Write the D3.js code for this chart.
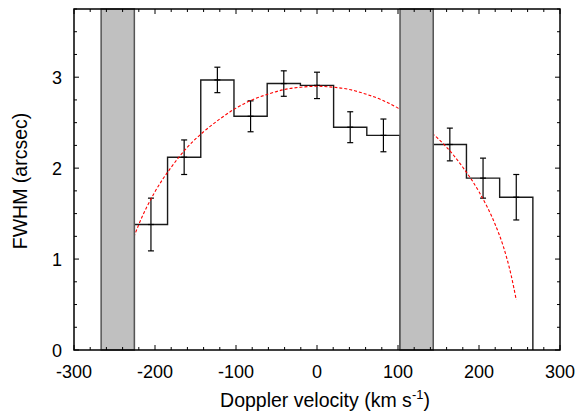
<!DOCTYPE html>
<html><head><meta charset="utf-8">
<script src="https://cdn.jsdelivr.net/npm/d3@7"></script>
<style>body{margin:0;background:#fff}svg text{font-family:"Liberation Sans",Arial,Helvetica,sans-serif;fill:#000}</style>
</head><body><svg id="c" width="582" height="412"></svg>
<script>
// Data
const binCenters = [-205, -164, -123, -82, -41, 0, 41, 82, 164, 205, 246];
const fwhm       = [1.38, 2.12, 2.97, 2.57, 2.93, 2.91, 2.45, 2.36, 2.26, 1.89, 1.68];
const fwhmErr    = [0.29, 0.19, 0.14, 0.17, 0.14, 0.145, 0.17, 0.18, 0.18, 0.22, 0.25];
const binWidth = 41;
const maskedBands = [[-266.5, -225.5], [102.5, 143.5]];
const fitV = [-246, -240, -230, -220, -200, -180, -160, -140, -120, -100, -80, -60, -40, -20, 0, 20, 40, 60, 80, 100, 120, 140, 160, 180, 200, 220, 230, 240, 246];
const fitY = [0.55, 0.81, 1.14, 1.38, 1.74, 2.01, 2.23, 2.40, 2.54, 2.66, 2.75, 2.815, 2.865, 2.89, 2.9, 2.89, 2.865, 2.815, 2.75, 2.66, 2.54, 2.40, 2.23, 2.01, 1.74, 1.38, 1.14, 0.81, 0.55];
const xTicks = [-300, -200, -100, 0, 100, 200, 300];
const yTicks = [0, 1, 2, 3];

const svg = d3.select("#c");
const L = 74, R = 560, T = 9, B = 350;
const x = d3.scaleLinear().domain([-300, 300]).range([L, R]);
const y = d3.scaleLinear().domain([0, 3.75]).range([B, T]);

// Step histogram
const segs = [[0, 7], [8, 10]];
const stepG = svg.append("g");
segs.forEach(([a, b]) => {
  const pts = [];
  pts.push([binCenters[a] - binWidth/2, 0]);
  for (let i = a; i <= b; i++) {
    pts.push([binCenters[i] - binWidth/2, fwhm[i]]);
    pts.push([binCenters[i] + binWidth/2, fwhm[i]]);
  }
  pts.push([binCenters[b] + binWidth/2, 0]);
  stepG.append("path")
    .attr("d", d3.line().x(d => x(d[0])).y(d => y(d[1]))(pts))
    .attr("fill", "none").attr("stroke", "#1a1a1a").attr("stroke-width", 1.4);
});

// Error bars
const eg = svg.append("g").attr("stroke", "#000").attr("stroke-width", 1.2);
binCenters.forEach((v, i) => {
  const cx = x(v), y1 = y(fwhm[i] + fwhmErr[i]), y2 = y(fwhm[i] - fwhmErr[i]);
  eg.append("line").attr("x1", cx).attr("x2", cx).attr("y1", y1).attr("y2", y2);
  eg.append("line").attr("x1", cx - 3).attr("x2", cx + 3).attr("y1", y1).attr("y2", y1);
  eg.append("line").attr("x1", cx - 3).attr("x2", cx + 3).attr("y1", y2).attr("y2", y2);
  eg.append("line").attr("x1", cx - 3).attr("x2", cx + 3).attr("y1", y(fwhm[i])).attr("y2", y(fwhm[i]));
});

// Fit curve
svg.append("path")
  .attr("d", d3.line().x((d, i) => x(fitV[i])).y((d, i) => y(fitY[i])).curve(d3.curveMonotoneX)(fitV))
  .attr("fill", "none").attr("stroke", "#ff0000").attr("stroke-width", 1.1)
  .attr("stroke-dasharray", "3,2");

// Masked bands
maskedBands.forEach(([a, b]) => {
  svg.append("rect").attr("x", x(a)).attr("y", T).attr("width", x(b) - x(a)).attr("height", B - T)
    .attr("fill", "#c0c0c0").attr("stroke", "#555").attr("stroke-width", 1.5);
});

// Ticks (inward, all sides)
const tg = svg.append("g").attr("stroke", "#000").attr("stroke-width", 1);
d3.range(-300, 301, 20).forEach(v => {
  const major = v % 100 === 0, len = major ? 5 : 3, px = x(v);
  tg.append("line").attr("x1", px).attr("x2", px).attr("y1", B).attr("y2", B - len);
  tg.append("line").attr("x1", px).attr("x2", px).attr("y1", T).attr("y2", T + len);
});
d3.range(0, 3.76, 0.25).forEach(v => {
  const major = Math.abs(v - Math.round(v)) < 1e-6, len = major ? 5 : 3, py = y(v);
  tg.append("line").attr("x1", L).attr("x2", L + len).attr("y1", py).attr("y2", py);
  tg.append("line").attr("x1", R).attr("x2", R - len).attr("y1", py).attr("y2", py);
});

// Frame
svg.append("rect").attr("x", L).attr("y", T).attr("width", R - L).attr("height", B - T)
  .attr("fill", "none").attr("stroke", "#000").attr("stroke-width", 1.5);

// Tick labels
svg.selectAll(".xl").data(xTicks).enter().append("text")
  .attr("x", d => x(d)).attr("y", 377.5).attr("text-anchor", "middle")
  .style("font-size", "18px").text(d => d);
svg.selectAll(".yl").data(yTicks).enter().append("text")
  .attr("x", 62).attr("y", d => y(d) + 6.5).attr("text-anchor", "end")
  .style("font-size", "18px").text(d => d);

// Axis titles
const xt = svg.append("text").attr("x", 325).attr("y", 407).attr("text-anchor", "middle").style("font-size", "19.5px");
xt.append("tspan").text("Doppler velocity (km s");
xt.append("tspan").attr("dy", -8).style("font-size", "13px").text("-1");
xt.append("tspan").attr("dy", 8).text(")");
svg.append("text").attr("transform", "translate(27,181) rotate(-90)").attr("text-anchor", "middle")
  .style("font-size", "19.5px").text("FWHM (arcsec)");
</script></body></html>
